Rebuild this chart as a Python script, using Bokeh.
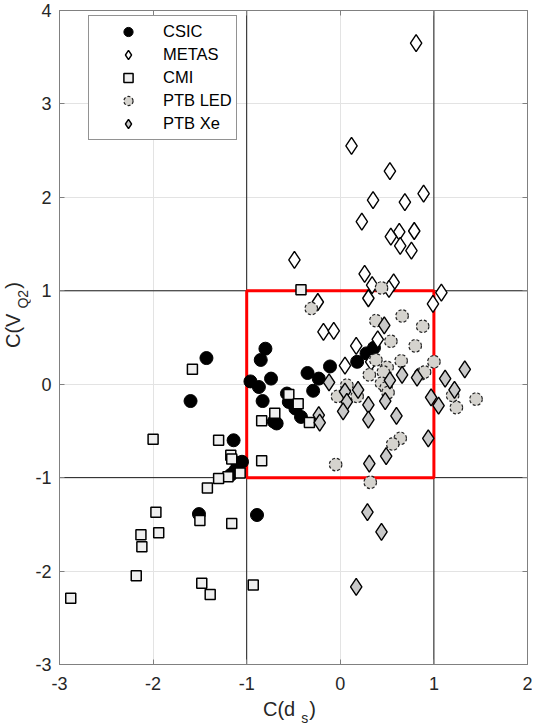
from bokeh.plotting import figure
from bokeh.models import Span, Legend, LegendItem, LinearAxis, FixedTicker, Div
from bokeh.layouts import row, column
from bokeh.embed import file_html
from bokeh.resources import INLINE

# ---------------- data ----------------
csic_x = [-1.43, -1.60, -1.14, -1.10, -1.05, -1.12, -1.17, -1.51, -0.89, -0.80, -0.85, -0.96, -0.87, -0.74,
          -0.83, -0.71, -0.68, -0.57, -0.55, -0.48, -0.42, -0.35, -0.23, -0.29, -0.11, 0.18, 0.28, 0.36]
csic_y = [0.28, -0.18, -0.60, -0.84, -0.83, -0.92, -0.97, -1.39, -1.40, 0.38, 0.26, 0.03, -0.03, 0.06,
          -0.18, -0.40, -0.42, -0.10, -0.19, -0.26, -0.35, 0.12, 0.06, -0.07, 0.19, 0.24, 0.33, 0.39]

metas_x = [0.81, 0.12, 0.53, 0.89, 0.35, 0.69, 0.23, 0.79, 0.63, 0.54, 0.64, 0.76, -0.49, 0.26, 0.57, 0.34,
           0.52, 0.30, 1.08, 0.99, -0.24, -0.18, -0.07, 0.17, 0.40, 0.05, 0.33]
metas_y = [3.65, 2.55, 2.28, 2.04, 1.97, 1.95, 1.74, 1.64, 1.63, 1.58, 1.48, 1.43, 1.33, 1.18, 1.09, 1.06,
           1.02, 0.92, 0.98, 0.86, 0.88, 0.56, 0.57, 0.41, 0.48, 0.20, 0.24]

cmi_x = [-1.58, -2.00, -1.30, -1.17, -1.16, -1.07, -1.20, -1.30, -1.42, -1.97, -1.50, -1.16, -2.13, -1.94,
         -2.12, -2.18, -1.48, -1.39, -0.93, -2.88, -0.84, -0.70, -0.84, -0.55, -0.45, -0.33, -0.42]
cmi_y = [0.16, -0.59, -0.60, -0.76, -0.80, -0.95, -0.99, -1.01, -1.11, -1.37, -1.46, -1.49, -1.61, -1.59,
         -1.74, -2.05, -2.13, -2.25, -2.15, -2.29, -0.39, -0.31, -0.82, -0.11, -0.21, -0.41, 1.01]

ptbled_x = [-0.31, 0.44, 0.66, 0.38, 0.88, 0.54, 0.80, 0.38, 0.31, 0.50, 0.65, 1.00, 0.46, 0.86, 0.90, 0.44,
            0.49, 0.51, 0.07, -0.03, 0.18, 1.20, 1.24, 1.45, 0.64, 0.56, -0.05, 0.32]
ptbled_y = [0.81, 1.03, 0.73, 0.68, 0.62, 0.46, 0.41, 0.26, 0.10, 0.18, 0.25, 0.24, 0.13, 0.11, 0.13, 0.01,
            -0.04, -0.09, -0.01, -0.13, -0.13, -0.12, -0.25, -0.16, -0.58, -0.64, -0.86, -1.05]

ptbxe_x = [0.47, 1.33, 0.66, 0.82, 1.12, 0.53, 0.48, 0.97, 1.05, 1.22, 0.60, -0.12, -0.23, -0.22, 0.05, 0.19,
           0.07, 0.03, 0.30, 0.30, 0.94, 0.49, 0.31, 0.29, 0.44, 0.17]
ptbxe_y = [0.63, 0.16, 0.10, 0.07, 0.06, 0.04, -0.18, -0.14, -0.23, -0.06, -0.34, 0.02, -0.33, -0.41, -0.08,
           -0.06, -0.19, -0.29, -0.22, -0.38, -0.58, -0.77, -0.85, -1.37, -1.58, -2.17]

series_names = ["CSIC", "METAS", "CMI", "PTB LED", "PTB Xe"]
x_ticks = [-3, -2, -1, 0, 1, 2]
y_ticks = [-3, -2, -1, 0, 1, 2, 3, 4]
x_limits = (-3, 2)
y_limits = (-3, 4)
box_limit = 1.0
x_title = ("C(d", "s", ")")
y_title = ("C(V", "Q2", ")")

# ---------------- layout geometry ----------------
YW = 30            # width of the y-title column
PW, PH = 502, 698  # plot size
XH = 29            # height of the x-title row

p = figure(width=PW, height=PH, x_range=x_limits, y_range=y_limits,
           output_backend="svg", toolbar_location=None,
           min_border_left=29, min_border_right=5, min_border_top=10, min_border_bottom=34,
           background_fill_color="white", border_fill_color="white", margin=0)

p.outline_line_color = "#808080"
p.outline_line_width = 1

# mirrored tick marks on top and right
p.add_layout(LinearAxis(), "above")
p.add_layout(LinearAxis(), "right")

for ax in p.xaxis:
    ax.ticker = FixedTicker(ticks=x_ticks)
    ax.major_label_overrides = {t: str(t) for t in x_ticks}
    ax.major_label_standoff = 12
for ax in p.yaxis:
    ax.ticker = FixedTicker(ticks=y_ticks)
    ax.major_label_overrides = {t: str(t) for t in y_ticks}
    ax.major_label_standoff = 8

for ax in list(p.xaxis) + list(p.yaxis):
    ax.axis_line_color = "#808080"
    ax.major_tick_line_color = "#808080"
    ax.major_tick_in = 5
    ax.major_tick_out = 0
    ax.minor_tick_line_color = None
    ax.major_label_text_font = "Liberation Sans"
    ax.major_label_text_font_size = "18px"
    ax.major_label_text_color = "#262626"

for ax, ticks in ((p.above[0], x_ticks), (p.right[0], y_ticks)):
    ax.major_label_overrides = {t: "" for t in ticks}
    ax.major_label_text_font_size = "1px"
    ax.major_label_standoff = 0

p.xgrid.ticker = FixedTicker(ticks=x_ticks)
p.ygrid.ticker = FixedTicker(ticks=y_ticks)
p.xgrid.grid_line_color = "#e3e3e3"
p.ygrid.grid_line_color = "#e3e3e3"

# black reference lines at +/- limit (below the markers and the red box)
for loc in (-box_limit, box_limit):
    p.add_layout(Span(location=loc, dimension="height", line_color="#1a1a1a", line_width=1, level="underlay"))
    p.add_layout(Span(location=loc, dimension="width", line_color="#1a1a1a", line_width=1, level="underlay"))

# red box
p.quad(left=[-box_limit], right=[box_limit], bottom=[-box_limit], top=[box_limit],
       fill_color=None, line_color="#ff0000", line_width=3)

r_csic = p.scatter(csic_x, csic_y, marker="circle", size=13, fill_color="black", line_color="black")
r_metas = p.scatter(metas_x, metas_y, marker="diamond", size=17, fill_color="white",
                    line_color="black", line_width=1.4)
r_cmi = p.scatter(cmi_x, cmi_y, marker="square", size=10, fill_color="#efefef",
                  line_color="black", line_width=1.5)
r_led = p.scatter(ptbled_x, ptbled_y, marker="circle", size=12.5, fill_color="#d5d3ce",
                  line_color="#222222", line_width=1.2, line_dash="3 2")
r_xe = p.scatter(ptbxe_x, ptbxe_y, marker="diamond", size=17, fill_color="#c9c9c9",
                 line_color="black", line_width=1.4)

legend = Legend(items=[LegendItem(label=n, renderers=[r]) for n, r in
                       zip(series_names, [r_csic, r_metas, r_cmi, r_led, r_xe])],
                location=(29, 524))
legend.border_line_color = "#262626"
legend.border_line_width = 1
legend.background_fill_color = "white"
legend.background_fill_alpha = 1
legend.label_text_font = "Liberation Sans"
legend.label_text_font_size = "16.5px"
legend.label_text_color = "black"
legend.glyph_width = 70
legend.glyph_height = 23
legend.label_height = 20
legend.label_standoff = 0
legend.spacing = 0
legend.padding = 4
legend.margin = 0
p.add_layout(legend)

# ---------------- axis titles (HTML, with subscripts) ----------------
font_css = "font-family:'Liberation Sans',Arial,sans-serif;font-size:20px;line-height:20px;color:#262626;white-space:nowrap;"

x_html = (f'<div style="{font_css}padding-left:233px;padding-top:1px;">'
          f'{x_title[0]}<span style="font-size:14px;vertical-align:-7px;margin-left:6px;margin-right:1px;">'
          f'{x_title[1]}</span>{x_title[2]}</div>')
y_html = (f'<div style="position:relative;width:{YW}px;height:{PH}px;">'
          f'<div style="position:absolute;left:2.5px;top:348px;transform-origin:0 0;'
          f'transform:rotate(-90deg);{font_css}">'
          f'{y_title[0]}<span style="font-size:14px;vertical-align:-8px;margin-left:5px;margin-right:1px;">'
          f'{y_title[1]}</span>{y_title[2]}</div></div>')

xdiv = Div(text=x_html, width=PW, height=XH, margin=0)
ydiv = Div(text=y_html, width=YW, height=PH, margin=0)

layout = row(ydiv, column(p, xdiv, spacing=0, margin=0), spacing=0, margin=0)

open("out.html", "w").write(file_html(layout, INLINE))
